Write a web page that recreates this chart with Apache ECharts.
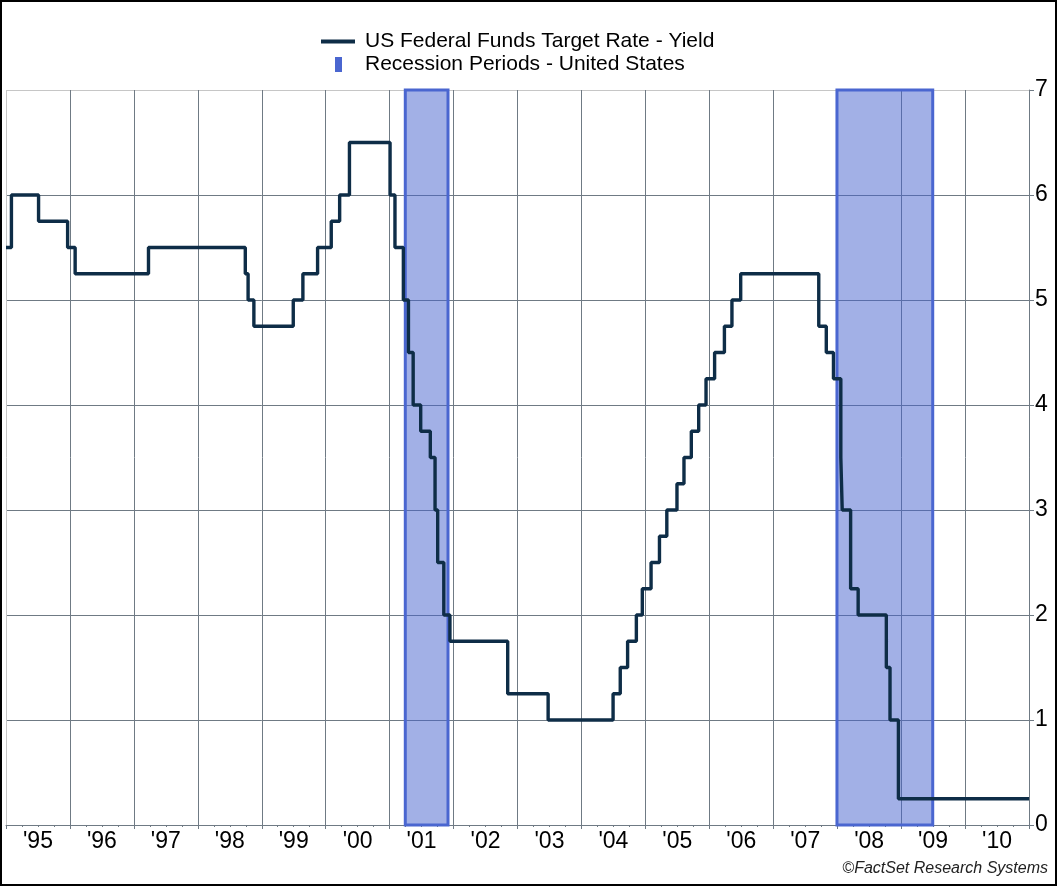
<!DOCTYPE html>
<html>
<head>
<meta charset="utf-8">
<title>US Federal Funds Target Rate</title>
<script src="https://cdn.jsdelivr.net/npm/echarts@6/dist/echarts.min.js"></script>
<style>
  html, body { margin: 0; padding: 0; background: #fff; }
  #main { width: 1057px; height: 886px; }
</style>
</head>
<body>
<div id="main"></div>
<script>
// year labels, one per band on the bottom axis
var yearLabels = ["'95", "'96", "'97", "'98", "'99", "'00", "'01", "'02",
                  "'03", "'04", "'05", "'06", "'07", "'08", "'09", "'10"];

// fed funds target: date the rate took effect, and the new rate
var rateDates = [
  '1995-01-01', '1995-02-01', '1995-07-06', '1995-12-19', '1996-01-31',
  '1997-03-25', '1998-09-29', '1998-10-15', '1998-11-17', '1999-06-30',
  '1999-08-24', '1999-11-16', '2000-02-02', '2000-03-21', '2000-05-16',
  '2001-01-03', '2001-01-31', '2001-03-20', '2001-04-18', '2001-05-15',
  '2001-06-27', '2001-08-21', '2001-09-17', '2001-10-02', '2001-11-06',
  '2001-12-11', '2002-11-06', '2003-06-25', '2004-06-30', '2004-08-10',
  '2004-09-21', '2004-11-10', '2004-12-14', '2005-02-02', '2005-03-22',
  '2005-05-03', '2005-06-30', '2005-08-09', '2005-09-20', '2005-11-01',
  '2005-12-13', '2006-01-31', '2006-03-28', '2006-05-10', '2006-06-29',
  '2007-09-18', '2007-10-31', '2007-12-11', '2008-01-22', '2008-01-30',
  '2008-03-18', '2008-04-30', '2008-10-08', '2008-10-29', '2008-12-16',
  '2011-01-01'
];
var rateValues = [
  5.50, 6.00, 5.75, 5.50, 5.25,
  5.50, 5.25, 5.00, 4.75, 5.00,
  5.25, 5.50, 5.75, 6.00, 6.50,
  6.00, 5.50, 5.00, 4.50, 4.00,
  3.75, 3.50, 3.00, 2.50, 2.00,
  1.75, 1.25, 1.00, 1.25, 1.50,
  1.75, 2.00, 2.25, 2.50, 2.75,
  3.00, 3.25, 3.50, 3.75, 4.00,
  4.25, 4.50, 4.75, 5.00, 5.25,
  4.75, 4.50, 4.25, 3.50, 3.00,
  2.25, 2.00, 1.50, 1.00, 0.25,
  0.25
];

// recession periods (month ends)
var recessionStarts = ['2001-03-31', '2007-12-31'];
var recessionEnds   = ['2001-11-30', '2009-06-30'];

var X_MIN = '1995-01-01';
var X_MAX = '2011-01-01';
var Y_MIN = 0, Y_MAX = 7, Y_STEP = 1;

var FONT = '"Liberation Sans", Arial, sans-serif';
var GRID_COL = '#6f7a84';
var EDGE_COL = '#c6c6c6';
var LINE_COL = '#0e2d47';
var BAND_COL = '#4a66d0';

var chart = echarts.init(document.getElementById('main'));

var rateData = rateDates.map(function (d, i) { return [d, rateValues[i]]; });
var recessionData = recessionStarts.map(function (s, i) {
  return [+echarts.number.parseDate(s), +echarts.number.parseDate(recessionEnds[i])];
});

// quarter slots only for the small ticks
var quarterSlots = [];
yearLabels.forEach(function (y) {
  for (var q = 1; q <= 4; q++) quarterSlots.push(y + 'Q' + q);
});

// first vertical grid line is the light left border
var xSplitColors = [EDGE_COL];
for (var i = 1; i <= yearLabels.length; i++) xSplitColors.push(GRID_COL);
// top horizontal grid line is light too
var ySplitColors = [];
for (var v = Y_MIN; v < Y_MAX; v += Y_STEP) ySplitColors.push(GRID_COL);
ySplitColors.push(EDGE_COL);

var option = {
  animation: false,
  backgroundColor: '#fff',
  grid: { left: 6, right: 28, top: 90, bottom: 61, containLabel: false },
  legend: [
    {
      data: [{ name: 'US Federal Funds Target Rate - Yield', icon: 'rect' }],
      left: 321, top: 31, padding: 0,
      itemWidth: 34, itemHeight: 4,
      selectedMode: false,
      textStyle: { fontSize: 21, fontFamily: FONT, color: '#000', padding: [0, 0, 0, 5] }
    },
    {
      data: [{ name: 'Recession Periods - United States', icon: 'rect' }],
      left: 335, top: 54, padding: 0,
      itemWidth: 7, itemHeight: 15,
      selectedMode: false,
      textStyle: { fontSize: 21, fontFamily: FONT, color: '#000', padding: [0, 0, 0, 18] }
    }
  ],
  xAxis: [
    {
      type: 'category',
      data: yearLabels,
      boundaryGap: true,
      position: 'bottom',
      axisLine: { show: true, lineStyle: { color: GRID_COL, width: 1 } },
      axisTick: { show: true, interval: 0, length: 4, lineStyle: { color: GRID_COL } },
      axisLabel: { interval: 0, color: '#000', fontSize: 23, fontFamily: FONT, margin: 5 },
      splitLine: { show: true, interval: 0, lineStyle: { color: xSplitColors, width: 1 } }
    },
    {
      type: 'time',
      min: X_MIN,
      max: X_MAX,
      show: false
    },
    {
      type: 'category',
      data: quarterSlots,
      boundaryGap: true,
      position: 'bottom',
      axisLine: { show: false },
      axisTick: { show: true, interval: 0, length: 2, lineStyle: { color: GRID_COL } },
      axisLabel: { show: false },
      splitLine: { show: false }
    }
  ],
  yAxis: {
    type: 'value',
    position: 'right',
    min: Y_MIN, max: Y_MAX, interval: Y_STEP,
    axisLine: { show: true, lineStyle: { color: GRID_COL } },
    axisTick: { show: true, length: 5, lineStyle: { color: GRID_COL } },
    axisLabel: { color: '#000', fontSize: 23, fontFamily: FONT, margin: 6 },
    splitLine: { show: true, lineStyle: { color: ySplitColors, width: 1 } }
  },
  series: [
    {
      name: 'Recession Periods - United States',
      type: 'custom',
      xAxisIndex: 1,
      data: recessionData,
      encode: { x: [0, 1] },
      itemStyle: { color: BAND_COL },
      z: 1,
      renderItem: function (params, api) {
        var a = api.coord([api.value(0), Y_MAX]);
        var b = api.coord([api.value(1), Y_MIN]);
        return {
          type: 'rect',
          shape: { x: a[0], y: a[1], width: b[0] - a[0], height: b[1] - a[1] },
          style: { fill: 'rgba(70,98,206,0.5)', stroke: BAND_COL, lineWidth: 3 }
        };
      }
    },
    {
      name: 'US Federal Funds Target Rate - Yield',
      type: 'line',
      xAxisIndex: 1,
      step: 'end',
      symbol: 'none',
      data: rateData,
      lineStyle: { color: LINE_COL, width: 3.4 },
      itemStyle: { color: LINE_COL },
      z: 3
    }
  ],
  graphic: [
    {
      type: 'rect',
      silent: true,
      shape: { x: 1, y: 1, width: 1055, height: 884 },
      style: { fill: null, stroke: '#000', lineWidth: 2 }
    },
    {
      type: 'text',
      right: 9, top: 861,
      style: {
        text: '©FactSet Research Systems',
        fontSize: 16, fontStyle: 'italic', fontFamily: FONT, fill: '#222'
      }
    }
  ]
};

chart.setOption(option);
</script>
</body>
</html>
